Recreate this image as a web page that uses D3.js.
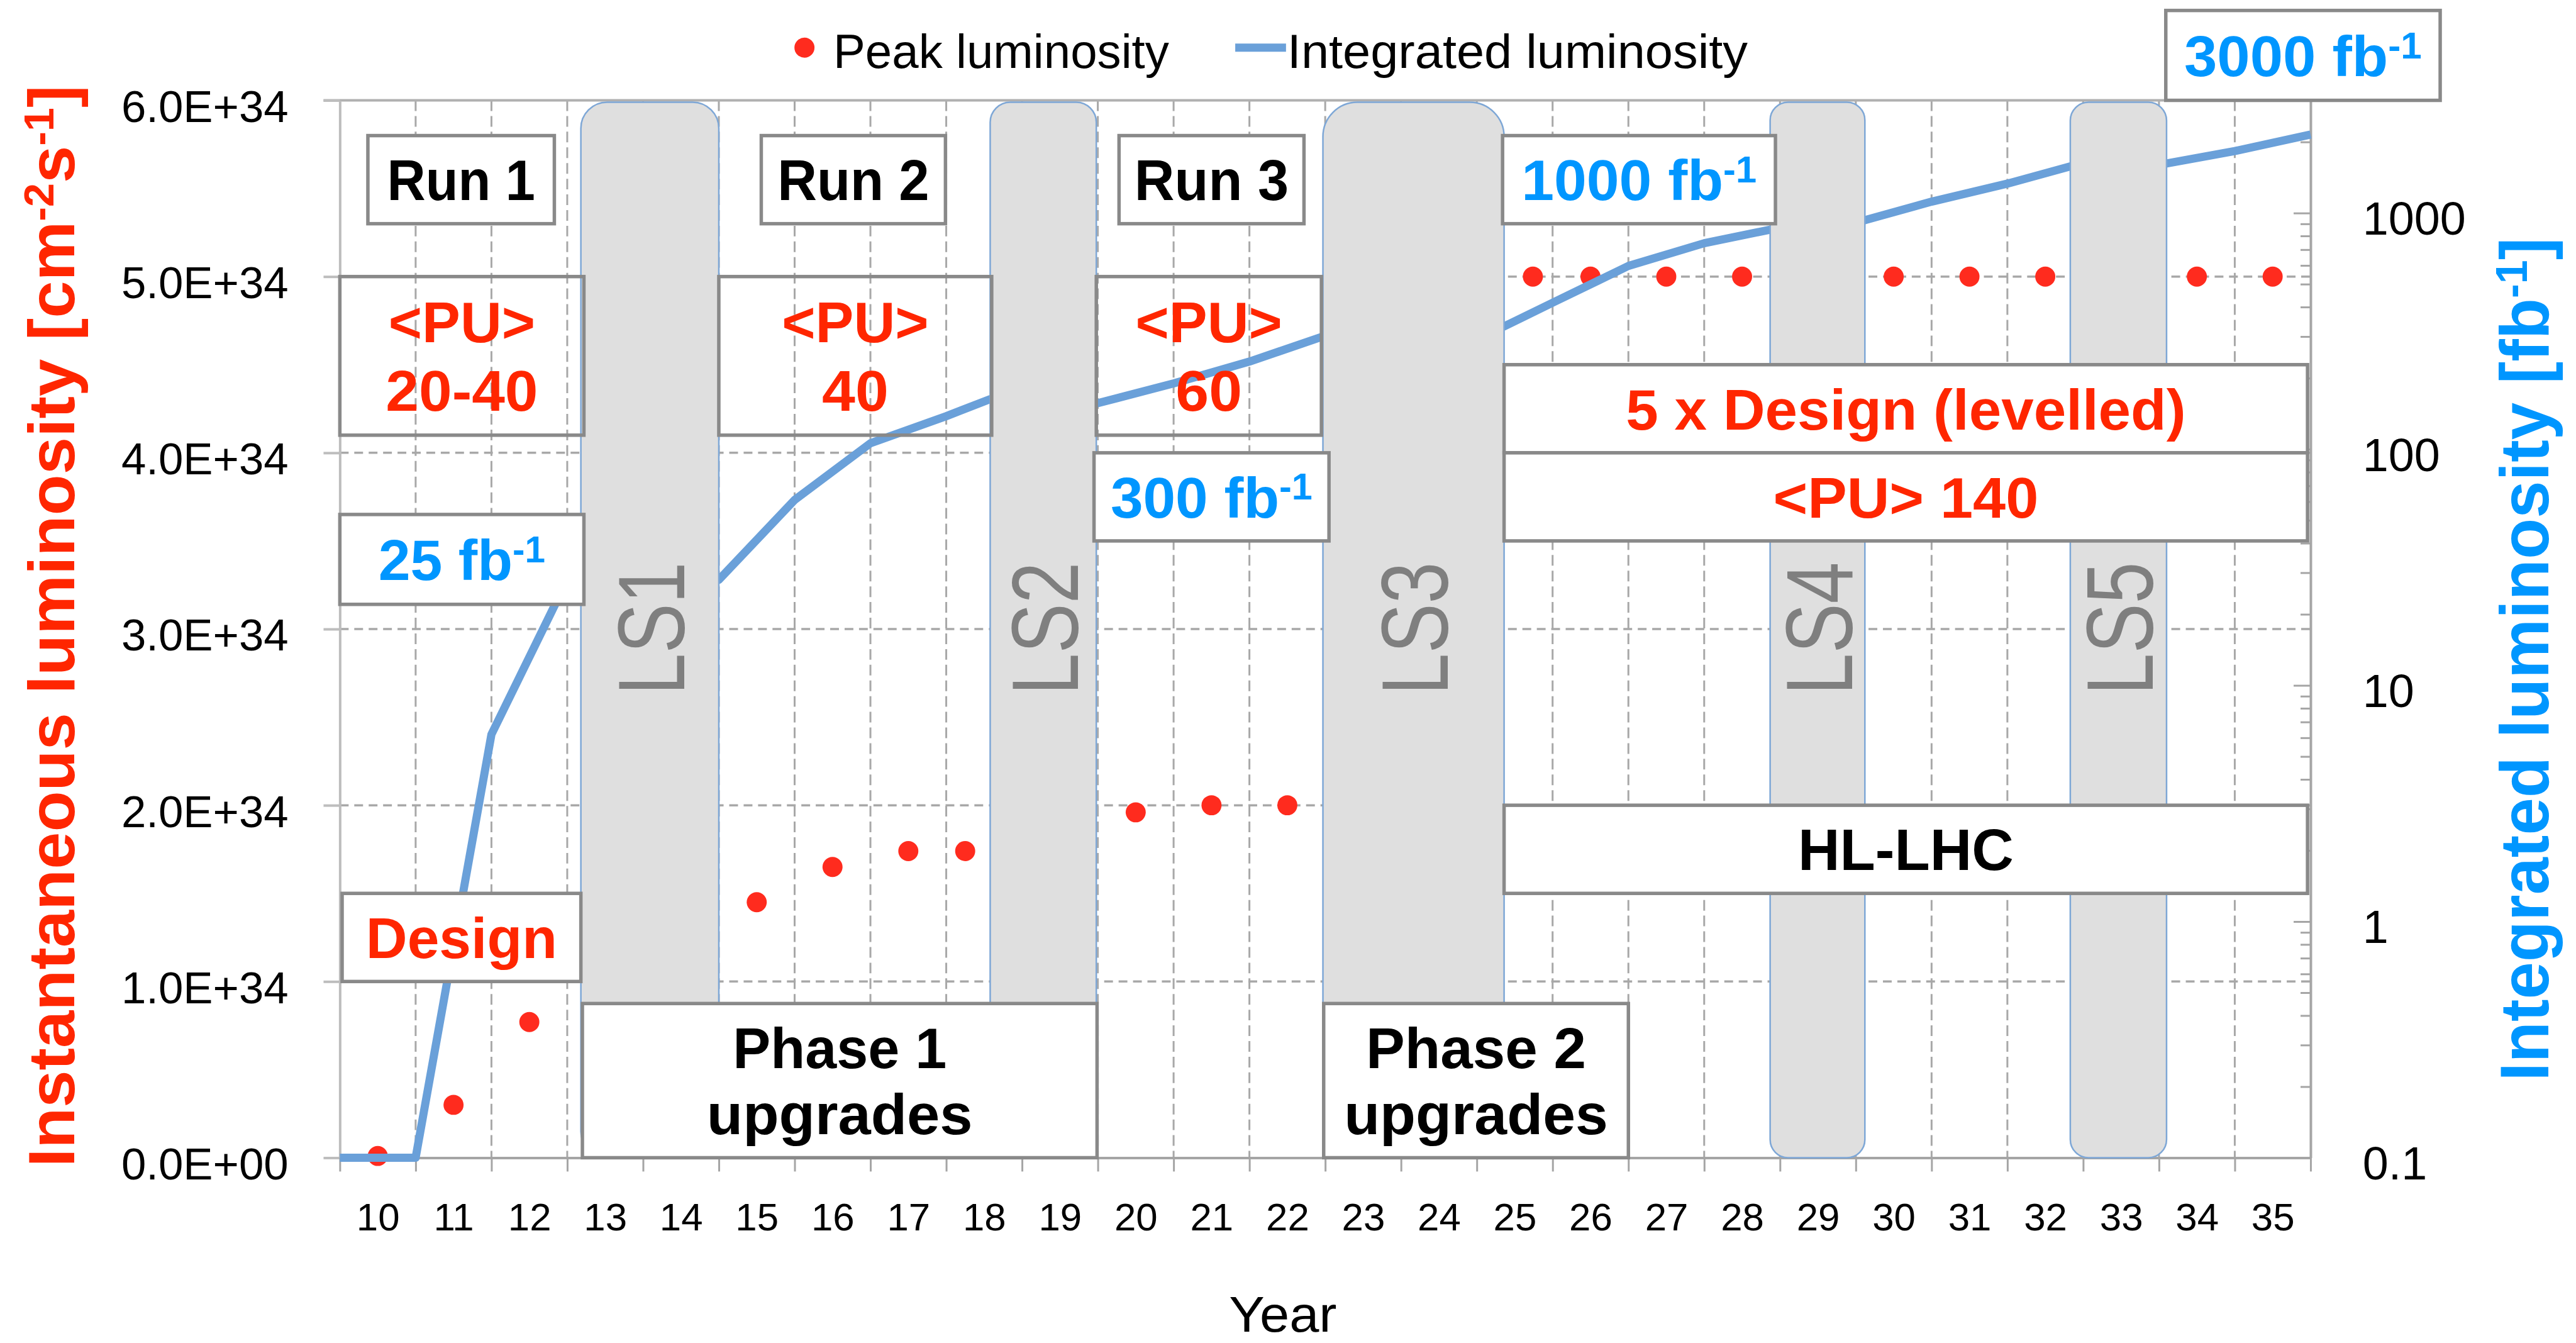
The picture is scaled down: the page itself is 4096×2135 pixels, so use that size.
<!DOCTYPE html>
<html>
<head>
<meta charset="utf-8">
<script src="https://cdn.jsdelivr.net/npm/d3@7/dist/d3.min.js"></script>
<style>
html, body { margin:0; padding:0; background:#ffffff; overflow:hidden; }
svg { display:block; }
</style>
</head>
<body>
<svg id="chart" width="4096" height="2135"></svg>
<script>
// ---------------- DATA ----------------
const years = [10,11,12,13,14,15,16,17,18,19,20,21,22,23,24,25,26,27,28,29,30,31,32,33,34,35];
const xTickLabels = ["10","11","12","13","14","15","16","17","18","19","20","21","22","23","24","25","26","27","28","29","30","31","32","33","34","35"];

// Peak luminosity (cm^-2 s^-1), x = position in years
const peakYear = [10.5, 11.5, 12.5, 15.5, 16.5, 17.5, 18.25, 20.5, 21.5, 22.5, 25.74, 26.5, 27.5, 28.5, 30.5, 31.5, 32.5, 34.5, 35.5];
const peakLumi = [0.01e34, 0.30e34, 0.77e34, 1.45e34, 1.65e34, 1.74e34, 1.74e34, 1.96e34, 2.0e34, 2.0e34, 5e34, 5e34, 5e34, 5e34, 5e34, 5e34, 5e34, 5e34, 5e34];

// Integrated luminosity (fb^-1), x = position in years
const intYear = [10, 11, 12, 13, 15, 16, 17, 18, 18.58, 19.98, 21, 22, 22.97, 25.36, 26, 27, 28, 28.87, 30.12, 31, 32, 32.83, 34.1, 35, 36];
const intLumi = [0.1, 0.1, 6.2, 28, 28, 61, 106, 138, 163, 156, 190, 235, 300, 331, 417, 597, 745, 850, 933, 1117, 1332, 1575, 1620, 1830, 2150];

const leftTickValues = [0, 1e34, 2e34, 3e34, 4e34, 5e34, 6e34];
const leftTickLabels = ["0.0E+00","1.0E+34","2.0E+34","3.0E+34","4.0E+34","5.0E+34","6.0E+34"];
const rightTickValues = [0.1, 1, 10, 100, 1000];
const rightTickLabels = ["0.1","1","10","100","1000"];
const rightMinorValues = [0.2,0.3,0.4,0.5,0.6,0.7,0.8,0.9,2,3,4,5,6,7,8,9,20,30,40,50,60,70,80,90,200,300,400,500,600,700,800,900,2000,3000];

const shutdownNames = ["LS1","LS2","LS3","LS4","LS5"];
const shutdownStart = [13.18, 18.58, 22.97, 28.87, 32.83];
const shutdownEnd   = [15.0, 19.98, 25.36, 30.12, 34.1];

const legendLabels = ["Peak luminosity", "Integrated luminosity"];

// ---------------- LAYOUT ----------------
const S = 0.997;
const FONT = "'Liberation Sans', Arial, Helvetica, sans-serif";
const RED = "#ff2600", BLUE = "#0096ff", DOT = "#ff2b1e", LINE = "#6aa0d9";
const GRID = "#a8a8a8", AXIS = "#a5a5a5", BOXSTROKE = "#898989";
const M = {left: 542, right: 3685, top: 160, bottom: 1846};

const svg = d3.select("#chart");
svg.append("rect").attr("width", 4096).attr("height", 2135).attr("fill", "#fff");
const root = svg.append("g").attr("transform", `scale(${S})`);

const x = d3.scaleLinear().domain([10, 36]).range([M.left, M.right]);
const yL = d3.scaleLinear().domain([0, 6e34]).range([M.bottom, M.top]);
const yR = d3.scaleLog().domain([0.1, 3000]).range([M.bottom, M.top]);

function fitText(parent, o) {
  const grp = parent.append("g").attr("transform", `translate(${o.x},${o.y}) rotate(${o.rot || 0})`);
  const inner = grp.append("g");
  const t = inner.append("text")
    .attr("text-anchor", o.anchor || "middle")
    .attr("font-family", FONT)
    .attr("font-size", o.size)
    .attr("font-weight", o.weight || "normal")
    .attr("fill", o.fill || "#000");
  let shift = 0;
  o.parts.forEach(p => {
    const ts = t.append("tspan").text(p.t);
    const target = p.sup ? -o.size * 0.31 : 0;
    ts.attr("dy", target - shift);
    shift = target;
    if (p.sup) ts.attr("font-size", o.size * 0.64);
  });
  if (o.width) {
    const w = t.node().getBBox().width;
    if (w > 0) inner.attr("transform", `scale(${o.width / w},1)`);
  }
  return grp;
}

// ---------------- GRID ----------------
const gridG = root.append("g");
gridG.selectAll("line.h").data(leftTickValues.filter(v => v > 0 && v < 6e34)).join("line")
  .attr("x1", M.left).attr("x2", M.right)
  .attr("y1", d => yL(d)).attr("y2", d => yL(d))
  .attr("stroke", GRID).attr("stroke-width", 3.5).attr("stroke-dasharray", "14,9");
gridG.selectAll("line.v").data(d3.range(11, 36)).join("line")
  .attr("x1", d => x(d)).attr("x2", d => x(d))
  .attr("y1", M.top).attr("y2", M.bottom)
  .attr("stroke", GRID).attr("stroke-width", 3).attr("stroke-dasharray", "17,8");
// top border
gridG.append("line").attr("x1", M.left - 26).attr("x2", M.right)
  .attr("y1", yL(6e34)).attr("y2", yL(6e34)).attr("stroke", "#b0b0b0").attr("stroke-width", 4);

// ---------------- AXES ----------------
const axL = d3.axisLeft(yL).tickValues(leftTickValues).tickFormat((d, i) => leftTickLabels[i])
  .tickSize(26).tickSizeOuter(0).tickPadding(56);
const gL = root.append("g").attr("transform", `translate(${M.left},0)`).call(axL);
gL.select(".domain").attr("stroke", "#bdbdbd").attr("stroke-width", 4);
gL.selectAll(".tick line").attr("stroke", "#bdbdbd").attr("stroke-width", 4);
gL.selectAll(".tick text").attr("font-size", 71).attr("font-family", FONT).attr("fill", "#000").attr("dy", "0.48em");

const axBT = d3.axisBottom(x).tickValues(d3.range(10, 37)).tickFormat(() => "").tickSize(22).tickSizeOuter(0);
const gBT = root.append("g").attr("transform", `translate(0,${M.bottom})`).call(axBT);
gBT.select(".domain").attr("stroke", AXIS).attr("stroke-width", 4);
gBT.selectAll(".tick line").attr("stroke", AXIS).attr("stroke-width", 3);

const axBL = d3.axisBottom(x).tickValues(years.map(v => v + 0.5)).tickFormat((d, i) => xTickLabels[i])
  .tickSize(0).tickPadding(72);
const gBL = root.append("g").attr("transform", `translate(0,${M.bottom})`).call(axBL);
gBL.select(".domain").remove();
gBL.selectAll(".tick text").attr("font-size", 62).attr("font-family", FONT).attr("fill", "#000");

const axR = d3.axisRight(yR).tickValues(rightTickValues).tickFormat((d, i) => rightTickLabels[i])
  .tickSizeInner(-27).tickSizeOuter(0).tickPadding(83);
const gR = root.append("g").attr("transform", `translate(${M.right},0)`).call(axR);
gR.select(".domain").attr("stroke", AXIS).attr("stroke-width", 4);
gR.selectAll(".tick line").attr("stroke", AXIS).attr("stroke-width", 3);
gR.selectAll(".tick text").attr("font-size", 74).attr("font-family", FONT).attr("fill", "#000").attr("dy", "0.46em");

const axRm = d3.axisRight(yR).tickValues(rightMinorValues).tickFormat(() => "").tickSizeInner(-16).tickSizeOuter(0);
const gRm = root.append("g").attr("transform", `translate(${M.right},0)`).call(axRm);
gRm.select(".domain").remove();
gRm.selectAll(".tick line").attr("stroke", AXIS).attr("stroke-width", 3);

// ---------------- SERIES ----------------
root.append("g").selectAll("circle").data(peakYear.map((v, i) => [v, peakLumi[i]])).join("circle")
  .attr("cx", d => x(d[0])).attr("cy", d => yL(d[1])).attr("r", 16).attr("fill", DOT);

const lineGen = d3.line().x(d => x(d[0])).y(d => yR(d[1]));
root.append("path").datum(intYear.map((v, i) => [v, intLumi[i]]))
  .attr("d", lineGen).attr("fill", "none").attr("stroke", LINE).attr("stroke-width", 13)
  .attr("stroke-linejoin", "round");

// ---------------- SHUTDOWNS ----------------
const lsG = root.append("g");
shutdownNames.forEach((name, i) => {
  const x0 = x(shutdownStart[i]), x1 = x(shutdownEnd[i]);
  const w = x1 - x0, r = 0.19 * w;
  lsG.append("rect").attr("x", x0).attr("y", yL(6e34) + 3).attr("width", w)
    .attr("height", M.bottom - yL(6e34) - 3).attr("rx", r).attr("ry", r)
    .attr("fill", "#dfdfdf").attr("stroke", "#7ea7d6").attr("stroke-width", 2.5);
  fitText(lsG, {x: (x0 + x1) / 2 + 55, y: 1002, rot: -90, size: 150, fill: "#7f7f7f",
    parts: [{t: name}], width: 212});
});

// ---------------- ANNOTATION BOXES ----------------
const notes = [
  {x0:10.37, x1:12.83, y0:5.3e34, y1:5.8e34, fill:"#fff", color:"#000", lines:[{p:[{t:"Run 1"}], w:236}]},
  {x0:15.56, x1:17.99, y0:5.3e34, y1:5.8e34, fill:"#fff", color:"#000", lines:[{p:[{t:"Run 2"}], w:242}]},
  {x0:20.28, x1:22.72, y0:5.3e34, y1:5.8e34, fill:"#fff", color:"#000", lines:[{p:[{t:"Run 3"}], w:246}]},
  {x0:25.34, x1:28.94, y0:5.3e34, y1:5.8e34, fill:"#fff", color:BLUE, lines:[{p:[{t:"1000 fb"},{t:"-1",sup:true}], w:375}]},
  {x0:34.09, x1:37.71, y0:6.0e34, y1:6.51e34, fill:"#fff", color:BLUE, lines:[{p:[{t:"3000 fb"},{t:"-1",sup:true}], w:379}]},
  {x0:10.0, x1:13.22, y0:4.1e34, y1:5.0e34, fill:"none", color:RED, gap:109, lines:[{p:[{t:"<PU>"}], w:234},{p:[{t:"20-40"}], w:243}]},
  {x0:15.0, x1:18.6, y0:4.1e34, y1:5.0e34, fill:"none", color:RED, gap:109, lines:[{p:[{t:"<PU>"}], w:234},{p:[{t:"40"}], w:106}]},
  {x0:19.98, x1:22.95, y0:4.1e34, y1:5.0e34, fill:"none", color:RED, gap:109, lines:[{p:[{t:"<PU>"}], w:234},{p:[{t:"60"}], w:106}]},
  {x0:10.0, x1:13.22, y0:3.14e34, y1:3.65e34, fill:"#fff", color:BLUE, lines:[{p:[{t:"25 fb"},{t:"-1",sup:true}], w:266}]},
  {x0:19.95, x1:23.05, y0:3.5e34, y1:4.0e34, fill:"#fff", color:BLUE, lines:[{p:[{t:"300 fb"},{t:"-1",sup:true}], w:322}]},
  {x0:10.03, x1:13.18, y0:1.0e34, y1:1.5e34, fill:"#fff", color:RED, lines:[{p:[{t:"Design"}], w:305}]},
  {x0:13.2, x1:19.99, y0:0, y1:0.875e34, fill:"#fff", color:"#000", gap:105, lines:[{p:[{t:"Phase 1"}], w:341},{p:[{t:"upgrades"}], w:424}]},
  {x0:22.98, x1:27.0, y0:0, y1:0.875e34, fill:"#fff", color:"#000", gap:105, lines:[{p:[{t:"Phase 2"}], w:351},{p:[{t:"upgrades"}], w:421}]},
  {x0:25.36, x1:35.96, y0:4.0e34, y1:4.5e34, fill:"#fff", color:RED, lines:[{p:[{t:"5 x Design (levelled)"}], w:893}]},
  {x0:25.36, x1:35.96, y0:3.5e34, y1:4.0e34, fill:"#fff", color:RED, lines:[{p:[{t:"<PU> 140"}], w:423}]},
  {x0:25.36, x1:35.96, y0:1.5e34, y1:2.0e34, fill:"#fff", color:"#000", lines:[{p:[{t:"HL-LHC"}], w:344}]}
];
const noteG = root.append("g");
notes.forEach(n => {
  const bx0 = x(n.x0), bx1 = x(n.x1), by0 = yL(n.y1), by1 = yL(n.y0);
  noteG.append("rect").attr("x", bx0).attr("y", by0).attr("width", bx1 - bx0).attr("height", by1 - by0)
    .attr("fill", n.fill).attr("stroke", BOXSTROKE).attr("stroke-width", 5.5);
  const cx = (bx0 + bx1) / 2, cy = (by0 + by1) / 2;
  const k = n.lines.length, gap = n.gap || 0;
  n.lines.forEach((ln, i) => {
    fitText(noteG, {x: cx, y: cy + (i - (k - 1) / 2) * gap + 33, size: 92, weight: "bold",
      fill: n.color, parts: ln.p, width: ln.w});
  });
});

// ---------------- LEGEND ----------------
const legG = root.append("g");
legG.append("circle").attr("cx", 1283).attr("cy", 76).attr("r", 16).attr("fill", DOT);
fitText(legG, {x: 1329, y: 108.5, anchor: "start", size: 77, parts: [{t: legendLabels[0]}], width: 536});
legG.append("line").attr("x1", 1970).attr("x2", 2051).attr("y1", 76).attr("y2", 76)
  .attr("stroke", LINE).attr("stroke-width", 13);
fitText(legG, {x: 2053, y: 108.5, anchor: "start", size: 77, parts: [{t: legendLabels[1]}], width: 735});

// ---------------- AXIS TITLES ----------------
fitText(root, {x: 2046, y: 2123, size: 80, parts: [{t: "Year"}], width: 172});
fitText(root, {x: 118, y: 998.5, rot: -90, size: 105, weight: "bold", fill: RED,
  parts: [{t: "Instantaneous luminosity [cm"}, {t: "-2", sup: true}, {t: "s"}, {t: "-1", sup: true}, {t: "]"}], width: 1725});
fitText(root, {x: 4064, y: 1051.5, rot: -90, size: 110, weight: "bold", fill: BLUE,
  parts: [{t: "Integrated luminosity [fb"}, {t: "-1", sup: true}, {t: "]"}], width: 1345});
</script>
</body>
</html>
